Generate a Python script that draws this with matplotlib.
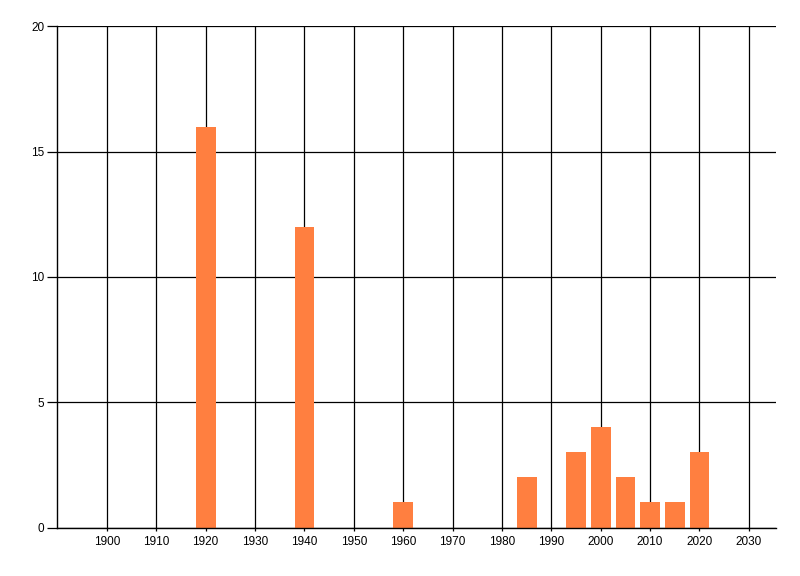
import matplotlib.pyplot as plt
import numpy as np

years = [1920, 1940, 1960, 1985, 1995, 2000, 2005, 2010, 2015, 2020]
counts = [16, 12, 1, 2, 3, 4, 2, 1, 1, 3]
x_ticks = list(range(1900, 2031, 10))
y_ticks = [0, 5, 10, 15, 20]

plt.rcParams['font.family'] = ['Liberation Sans', 'DejaVu Sans']

fig = plt.figure(figsize=(8, 5.76), dpi=100)
ax = fig.add_axes([0.0713, 0.0842, 0.8987, 0.8698])

ax.bar(years, counts, width=4, color='#ff7f40', zorder=3)

ax.set_xlim(1889.9, 2035.5)
ax.set_ylim(0, 20)
ax.set_xticks(x_ticks)
ax.set_yticks(y_ticks)
ax.grid(True, color='black', linewidth=0.9, zorder=0)
ax.set_axisbelow(True)

for s in ['top', 'right']:
    ax.spines[s].set_visible(False)
for s in ['left', 'bottom']:
    ax.spines[s].set_linewidth(1.0)
    ax.spines[s].set_zorder(4)

ax.tick_params(axis='x', length=2, width=0.9, labelsize=8.5, pad=4)
ax.tick_params(axis='y', length=7, width=0.9, labelsize=8.5, pad=2)

fig.savefig('out.png', dpi=100)
